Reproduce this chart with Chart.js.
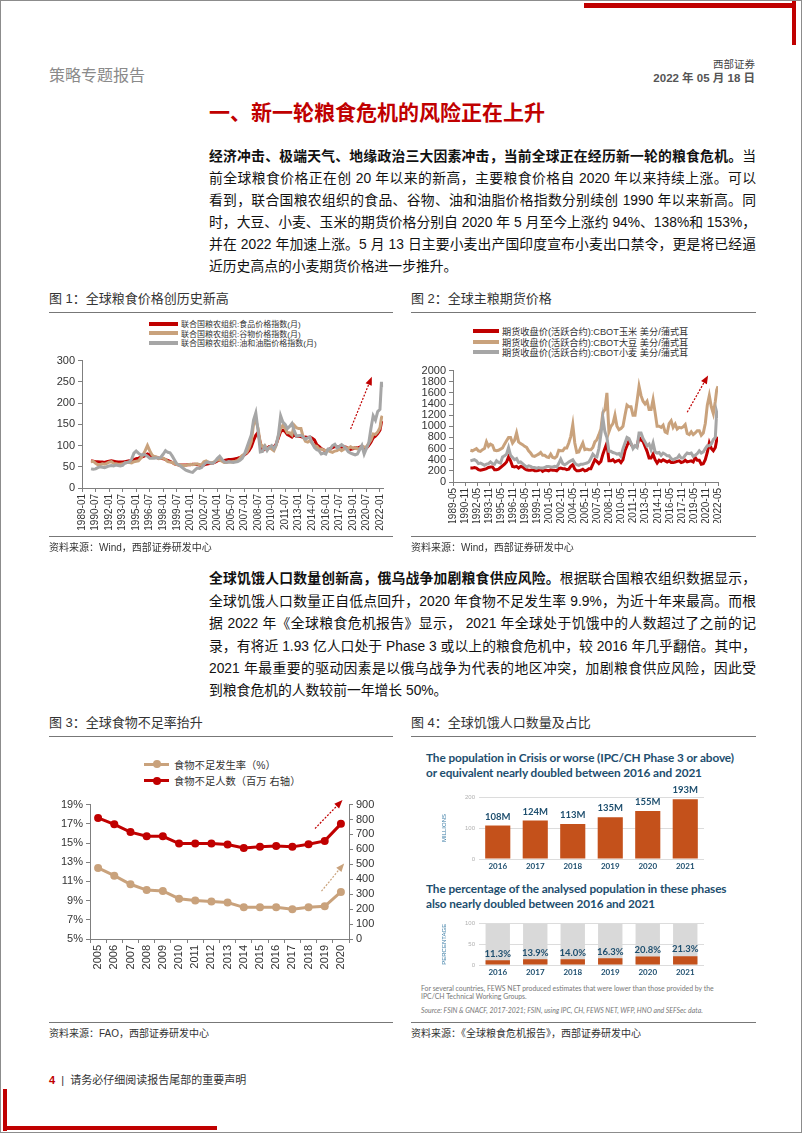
<!DOCTYPE html>
<html>
<head>
<meta charset="utf-8">
<script src="https://cdn.jsdelivr.net/npm/chart.js@4.4.1/dist/chart.umd.min.js"></script>
<style>
  html, body { margin: 0; padding: 0; background: #fff; }
  #page { position: relative; width: 802px; height: 1133px; overflow: hidden; box-sizing: border-box; border: 1px solid #8c8c8c;
          font-family: "Liberation Sans", Arial, "Noto Sans CJK SC", sans-serif; color: #222; }
  .abs { position: absolute; white-space: nowrap; }
  .ln { position: absolute; left: 208px; width: 547px; height: 22px; line-height: 22px; font-size: 13.8px;
        white-space: nowrap; text-align: justify; text-align-last: justify; color: #111; }
  .ln.last { text-align-last: left; }
  .ftitle { position: absolute; font-size: 13px; line-height: 16px; color: #333; white-space: nowrap; }
  .rule { position: absolute; height: 0; border-top: 1.5px solid #777; }
  .src { position: absolute; font-size: 10px; line-height: 12px; color: #333; white-space: nowrap; }
  canvas { position: absolute; }
  .legend { position: absolute; font-size: 8px; color: #333; }
  .legend .row { display: flex; align-items: center; height: 9.6px; white-space: nowrap; }
  .legend .sw { display: inline-block; width: 29px; height: 4px; margin-right: 3px; }
  .legend.wide { font-size: 9.2px; }
  .legend.wide .row { height: 10.5px; }
  .legend.wide .sw { width: 26px; }
  .legend3 { position: absolute; font-size: 10.3px; color: #333; }
  .legend3 .row { display: flex; align-items: center; height: 16.5px; white-space: nowrap; }
  .legend3 .sw { position: relative; display: inline-block; width: 25px; height: 3px; margin-right: 5px; }
  .legend3 .sw i { position: absolute; left: 8.5px; top: -2.5px; width: 8px; height: 8px; border-radius: 50%; }
  .f4t { position: absolute; left: 425px; font-family: Lato, "Open Sans", sans-serif; font-weight: 700; font-size: 11.8px;
         line-height: 14.5px; color: #1d4e6e; white-space: nowrap; letter-spacing: -0.1px; }
  .f4n { position: absolute; left: 420px; font-family: Lato, sans-serif; font-size: 6.9px; line-height: 8px; color: #777; white-space: nowrap; }
</style>
</head>
<body>
<div id="page">
  <!-- corner marks -->
  <div class="abs" style="left:583px;top:2px;width:212px;height:5px;background:#c00000"></div>
  <div class="abs" style="left:791px;top:0;width:4px;height:44px;background:#c00000"></div>
  <div class="abs" style="left:2px;top:1088px;width:4px;height:42px;background:#c00000"></div>
  <div class="abs" style="left:2px;top:1125px;width:214px;height:4px;background:#c00000"></div>

  <div class="abs" style="left:48px;top:65px;font-size:16px;line-height:20px;color:#8a8a8a;">策略专题报告</div>
  <div class="abs" style="right:46px;top:56px;font-size:10.5px;line-height:14px;color:#444;">西部证券</div>
  <div class="abs" style="right:46px;top:70px;font-size:11.5px;line-height:15px;color:#555;font-weight:bold;">2022 年 05 月 18 日</div>

  <div class="abs" style="left:208px;top:99px;font-size:21px;line-height:26px;color:#c00000;font-weight:bold;">一、新一轮粮食危机的风险正在上升</div>

  <div class="ln" style="top:145px"><b>经济冲击、极端天气、地缘政治三大因素冲击，当前全球正在经历新一轮的粮食危机。</b>当</div>
  <div class="ln" style="top:167px">前全球粮食价格正在创 20 年以来的新高，主要粮食价格自 2020 年以来持续上涨。可以</div>
  <div class="ln" style="top:189px">看到，联合国粮农组织的食品、谷物、油和油脂价格指数分别续创 1990 年以来新高。同</div>
  <div class="ln" style="top:211px">时，大豆、小麦、玉米的期货价格分别自 2020 年 5 月至今上涨约 94%、138%和 153%，</div>
  <div class="ln" style="top:233px">并在 2022 年加速上涨。5 月 13 日主要小麦出产国印度宣布小麦出口禁令，更是将已经逼</div>
  <div class="ln last" style="top:255px">近历史高点的小麦期货价格进一步推升。</div>

  <div class="ftitle" style="left:48px;top:290px">图 1：全球粮食价格创历史新高</div>
  <div class="rule" style="left:48px;top:311px;width:344px"></div>
  <div class="ftitle" style="left:410px;top:290px">图 2：全球主粮期货价格</div>
  <div class="rule" style="left:410px;top:311px;width:345px"></div>

  <div class="legend" id="lg1" style="left:148px;top:318px"></div>
  <canvas id="fig1" width="349" height="186" style="left:44px;top:350px"></canvas>
  <div class="legend wide" id="lg2" style="left:472px;top:325px"></div>
  <canvas id="fig2" width="326" height="162" style="left:405px;top:360px"></canvas>

  <div class="rule" style="left:48px;top:535px;width:344px"></div>
  <div class="src" style="left:48px;top:541px">资料来源：Wind，西部证券研发中心</div>
  <div class="rule" style="left:410px;top:535px;width:345px"></div>
  <div class="src" style="left:410px;top:541px">资料来源：Wind，西部证券研发中心</div>

  <div class="ln" style="top:567px"><b>全球饥饿人口数量创新高，俄乌战争加剧粮食供应风险。</b>根据联合国粮农组织数据显示，</div>
  <div class="ln" style="top:590px">全球饥饿人口数量正自低点回升，2020 年食物不足发生率 9.9%，为近十年来最高。而根</div>
  <div class="ln" style="top:612px">据 2022 年《全球粮食危机报告》显示， 2021 年全球处于饥饿中的人数超过了之前的记</div>
  <div class="ln" style="top:635px">录，有将近 1.93 亿人口处于 Phase 3 或以上的粮食危机中，较 2016 年几乎翻倍。其中，</div>
  <div class="ln" style="top:657px">2021 年最重要的驱动因素是以俄乌战争为代表的地区冲突，加剧粮食供应风险，因此受</div>
  <div class="ln last" style="top:679px">到粮食危机的人数较前一年增长 50%。</div>

  <div class="ftitle" style="left:48px;top:714px">图 3：全球食物不足率抬升</div>
  <div class="rule" style="left:48px;top:735px;width:344px"></div>
  <div class="ftitle" style="left:410px;top:714px">图 4：全球饥饿人口数量及占比</div>
  <div class="rule" style="left:410px;top:735px;width:345px"></div>

  <div class="legend3" id="lg3" style="left:143px;top:755px"></div>
  <canvas id="fig3" width="340" height="175" style="left:44px;top:794px"></canvas>

  <div class="f4t" style="top:750px">The population in Crisis or worse (IPC/CH Phase 3 or above)<br>or equivalent nearly doubled between 2016 and 2021</div>
  <canvas id="fig4a" width="280" height="95" style="left:440px;top:780px"></canvas>
  <div class="f4t" style="top:881px">The percentage of the analysed population in these phases<br>also nearly doubled between 2016 and 2021</div>
  <canvas id="fig4b" width="280" height="63" style="left:440px;top:915px"></canvas>
  <div class="f4n" style="top:983px">For several countries, FEWS NET produced estimates that were lower than those provided by the<br>IPC/CH Technical Working Groups.</div>
  <div class="f4n" style="top:1005px;font-style:italic">Source: FSIN &amp; GNACF, 2017-2021; FSIN, using IPC, CH, FEWS NET, WFP, HNO and SEFSec data.</div>

  <div class="rule" style="left:48px;top:1021px;width:344px"></div>
  <div class="src" style="left:48px;top:1027px">资料来源：FAO，西部证券研发中心</div>
  <div class="rule" style="left:410px;top:1021px;width:345px"></div>
  <div class="src" style="left:410px;top:1027px">资料来源：《全球粮食危机报告》，西部证券研发中心</div>

  <div class="abs" style="left:48px;top:1072px;font-size:11px;line-height:14px;color:#333;">
    <b style="color:#c00000">4</b>&nbsp;&nbsp;|&nbsp;&nbsp;请务必仔细阅读报告尾部的重要声明</div>
</div>

<script>
const fig1Ticks = ['1989-01','1990-07','1992-01','1993-07','1995-01','1996-07','1998-01','1999-07','2001-01','2002-07',
  '2004-01','2005-07','2007-01','2008-07','2010-01','2011-07','2013-01','2014-07','2016-01','2017-07','2019-01','2020-07','2022-01'];
const fig1Labels = ['联合国粮农组织:食品价格指数(月)', '联合国粮农组织:谷物价格指数(月)', '联合国粮农组织:油和油脂价格指数(月)'];
const fig1Dates = [
  '1990-01','1990-04','1990-07','1990-10','1991-01','1991-04','1991-07','1991-10','1992-01','1992-04','1992-07','1992-10',
  '1993-01','1993-04','1993-07','1993-10','1994-01','1994-04','1994-07','1994-10','1995-01','1995-04','1995-07','1995-10',
  '1996-01','1996-04','1996-07','1996-10','1997-01','1997-04','1997-07','1997-10','1998-01','1998-04','1998-07','1998-10',
  '1999-01','1999-04','1999-07','1999-10','2000-01','2000-04','2000-07','2000-10','2001-01','2001-04','2001-07','2001-10',
  '2002-01','2002-04','2002-07','2002-10','2003-01','2003-04','2003-07','2003-10','2004-01','2004-04','2004-07','2004-10',
  '2005-01','2005-04','2005-07','2005-10','2006-01','2006-04','2006-07','2006-10','2007-01','2007-04','2007-07','2007-10',
  '2008-01','2008-04','2008-07','2008-10','2009-01','2009-04','2009-07','2009-10','2010-01','2010-04','2010-07','2010-10',
  '2011-01','2011-04','2011-07','2011-10','2012-01','2012-04','2012-07','2012-10','2013-01','2013-04','2013-07','2013-10',
  '2014-01','2014-04','2014-07','2014-10','2015-01','2015-04','2015-07','2015-10','2016-01','2016-04','2016-07','2016-10',
  '2017-01','2017-04','2017-07','2017-10','2018-01','2018-04','2018-07','2018-10','2019-01','2019-04','2019-07','2019-10',
  '2020-01','2020-04','2020-07','2020-10','2021-01','2021-04','2021-07','2021-10','2022-01','2022-03','2022-04'];
const fig1Food = [
  64,63,62,62, 61,61,60,62, 63,64,63,62, 61,61,61,62, 63,64,65,67, 69,70,72,74, 76,80,78,74, 73,72,70,70,
  69,67,65,63, 60,57,55,54, 54,54,54,55, 55,56,56,55, 54,53,54,56, 57,58,59,61, 64,66,65,65, 66,67,67,68,
  69,70,72,74, 78,82,88,97, 112,124,131,105, 88,92,93,98, 98,96,103,118, 133,136,133,126, 123,120,126,122,
  122,121,119,120, 119,120,117,113, 102,98,93,90, 86,90,93,95, 98,96,98,96, 97,96,93,91, 92,95,94,96,
  99,91,94,100, 108,118,122,128, 136,155,158];
const fig1Cereal = [
  62,63,58,55, 55,57,56,58, 61,62,58,57, 56,56,57,59, 60,60,59,62, 63,64,70,78, 88,100,88,78, 74,73,69,70,
  70,67,62,61, 60,57,55,54, 54,53,53,55, 56,55,56,57, 55,55,62,64, 60,59,60,63, 66,66,63,60, 60,61,61,62,
  63,65,70,77, 80,84,95,110, 150,160,140,105, 97,100,90,95, 92,88,100,122, 140,148,140,130, 130,125,148,142,
  140,140,120,110, 108,112,105,100, 98,92,92,90, 88,88,86,84, 87,88,92,88, 91,95,93,97, 94,95,92,93,
  98,96,97,105, 113,127,126,132, 142,165,170];
const fig1Oils = [
  45,44,45,48, 50,49,48,50, 52,53,52,54, 53,52,53,59, 60,62,68,82, 87,82,78,79, 78,75,70,70, 70,71,70,73,
  80,88,84,83, 75,66,57,54, 50,46,42,40, 38,37,42,47, 46,48,55,60, 61,59,58,63, 70,75,68,62, 60,62,61,60,
  61,62,65,70, 80,95,110,125, 160,177,135,85, 86,98,88,96, 100,92,102,125, 170,155,150,140, 145,152,135,122,
  123,124,120,115, 118,120,105,95, 90,88,80,82, 80,92,92,100, 103,95,98,102, 98,92,85,82, 80,78,80,90,
  100,80,93,105, 140,170,160,180, 185,250,237];

// ---------- Figure 2: CBOT futures, cents/bushel ----------
const fig2Ticks = ['1989-05','1990-11','1992-05','1993-11','1995-05','1996-11','1998-05','1999-11','2001-05','2002-11',
  '2004-05','2005-11','2007-05','2008-11','2010-05','2011-11','2013-05','2014-11','2016-05','2017-11','2019-05','2020-11','2022-05'];
const fig2Labels = ['期货收盘价(活跃合约):CBOT玉米  美分/蒲式耳', '期货收盘价(活跃合约):CBOT大豆  美分/蒲式耳', '期货收盘价(活跃合约):CBOT小麦  美分/蒲式耳'];
const fig2Dates = [
  '1991-07','1991-10','1992-01','1992-04','1992-07','1992-10',
  '1993-01','1993-04','1993-07','1993-10','1994-01','1994-04','1994-07','1994-10','1995-01','1995-04','1995-07','1995-10',
  '1996-01','1996-04','1996-07','1996-10','1997-01','1997-04','1997-07','1997-10','1998-01','1998-04','1998-07','1998-10',
  '1999-01','1999-04','1999-07','1999-10','2000-01','2000-04','2000-07','2000-10','2001-01','2001-04','2001-07','2001-10',
  '2002-01','2002-04','2002-07','2002-10','2003-01','2003-04','2003-07','2003-10','2004-01','2004-04','2004-07','2004-10',
  '2005-01','2005-04','2005-07','2005-10','2006-01','2006-04','2006-07','2006-10','2007-01','2007-04','2007-07','2007-10',
  '2008-01','2008-04','2008-07','2008-10','2009-01','2009-04','2009-07','2009-10','2010-01','2010-04','2010-07','2010-10',
  '2011-01','2011-04','2011-07','2011-10','2012-01','2012-04','2012-07','2012-10','2013-01','2013-04','2013-07','2013-10',
  '2014-01','2014-04','2014-07','2014-10','2015-01','2015-04','2015-07','2015-10','2016-01','2016-04','2016-07','2016-10',
  '2017-01','2017-04','2017-07','2017-10','2018-01','2018-04','2018-07','2018-10','2019-01','2019-04','2019-07','2019-10',
  '2020-01','2020-04','2020-07','2020-10','2021-01','2021-04','2021-07','2021-10','2022-01','2022-03','2022-05'];
const fig2Corn = [
  250,250, 260,250,220,210, 220,230,240,260, 270,270,220,220, 230,260,290,320, 360,450,380,280, 270,280,250,280,
  270,240,220,210, 210,220,200,200, 210,230,190,210, 210,200,220,210, 210,200,240,250, 240,240,220,230,
  280,310,230,200, 200,210,230,200, 210,240,240,320, 400,370,330,370, 500,600,700,380, 380,400,360,380,
  390,350,400,560, 650,740,680,630, 640,640,800,750, 730,640,550,430, 430,500,400,340, 390,370,400,380,
  360,380,350,350, 360,370,380,350, 360,390,360,370, 380,360,440,390, 390,320,330,400, 530,700,600,560,
  620,750,810];
const fig2Soy = [
  570,560, 580,600,560,550, 580,600,720,640, 680,660,570,560, 570,590,610,680, 740,800,800,700, 750,880,720,690,
  670,640,620,560, 520,470,460,480, 500,530,480,480, 450,440,500,440, 430,460,570,560, 560,610,610,700,
  820,1030,700,530, 540,620,700,580, 590,580,580,620, 720,760,850,950, 1250,1300,1600,900, 1000,1050,1200,1000,
  940,960,1000,1200, 1380,1350,1350,1200, 1200,1450,1720,1550, 1450,1400,1450,1300, 1300,1480,1250,1000, 1000,980,1020,900,
  880,1050,1100,980, 1040,950,980,970, 990,1030,870,850, 900,850,880,920, 920,840,880,1050, 1380,1550,1350,1230,
  1450,1650,1720];
const fig2Wheat = [
  380,390, 400,380,330,340, 320,300,320,330, 360,330,320,380, 350,340,450,470, 500,620,480,440, 400,420,350,360,
  330,300,270,290, 280,260,260,250, 260,250,250,260, 280,280,270,270, 280,270,330,410, 330,310,330,360,
  380,400,340,310, 300,320,320,330, 340,360,420,500, 460,450,600,850, 1150,900,800,550, 550,530,520,500,
  510,460,600,700, 800,780,700,600, 650,620,880,880, 780,720,650,680, 580,700,540,520, 530,480,520,500,
  470,470,420,400, 420,430,480,430, 430,480,520,510, 520,460,480,510, 560,520,540,600, 650,650,680,760,
  800,1250,1150];

// ---------- Figure 3: prevalence of undernourishment ----------
const fig3Years = ['2005','2006','2007','2008','2009','2010','2011','2012','2013','2014','2015','2016','2017','2018','2019','2020'];
const fig3Labels = ['食物不足发生率（%）', '食物不足人数（百万  右轴）'];
const fig3Rate = [12.4, 11.6, 10.7, 10.1, 10.0, 9.2, 9.0, 8.9, 8.8, 8.3, 8.3, 8.3, 8.1, 8.3, 8.4, 9.9];
const fig3People = [811, 768, 716, 688, 688, 639, 639, 639, 633, 609, 617, 622, 617, 635, 657, 771];

// ---------- Figure 4: Global Report on Food Crises ----------
const fig4Years = ['2016', '2017', '2018', '2019', '2020', '2021'];
const fig4Millions = [108, 124, 113, 135, 155, 193];
const fig4Percent = [11.3, 13.9, 14.0, 16.3, 20.8, 21.3];
const fig4PercentTotal = [100, 100, 100, 100, 100, 100];

const RED = '#c00000', TAN = '#c9a27c', GRAY = '#a6a6a6', ORANGE = '#c4511b', NAVY = '#1d4e6e';

Chart.defaults.font.family = '"Liberation Sans", Arial, sans-serif';
Chart.defaults.color = '#333';

const toYear = (s) => {
    const [y, m] = s.split('-').map(Number);
    return y + (m - 1) / 12;
};
const toPoints = (dates, values) => dates.map((d, i) => ({ x: toYear(d), y: values[i] }));

// dotted trend arrows, positioned in data units
const arrowPlugin = {
    id: 'arrows',
    afterDatasetsDraw: (chart, args, opts) => {
        const ctx = chart.ctx;
        (opts.items || []).forEach(a => {
            const xs = chart.scales.x, ys = chart.scales[a.axis || 'y'];
            const x1 = xs.getPixelForValue(a.from[0]), y1 = ys.getPixelForValue(a.from[1]);
            const x2 = xs.getPixelForValue(a.to[0]), y2 = ys.getPixelForValue(a.to[1]);
            const ang = Math.atan2(y2 - y1, x2 - x1);
            ctx.save();
            ctx.strokeStyle = a.color;
            ctx.fillStyle = a.color;
            ctx.lineWidth = 1.2;
            ctx.setLineDash([2, 1.5]);
            ctx.beginPath();
            ctx.moveTo(x1, y1);
            ctx.lineTo(x2 - 6 * Math.cos(ang), y2 - 6 * Math.sin(ang));
            ctx.stroke();
            ctx.setLineDash([]);
            ctx.beginPath();
            ctx.moveTo(x2, y2);
            ctx.lineTo(x2 - 9 * Math.cos(ang - 0.38), y2 - 9 * Math.sin(ang - 0.38));
            ctx.lineTo(x2 - 9 * Math.cos(ang + 0.38), y2 - 9 * Math.sin(ang + 0.38));
            ctx.closePath();
            ctx.fill();
            ctx.restore();
        });
    }
};

// value labels above bars (fig 4)
const barLabelPlugin = {
    id: 'barLabels',
    afterDatasetsDraw: (chart, args, opts) => {
        const ctx = chart.ctx;
        const meta = chart.getDatasetMeta(0);
        const values = chart.data.datasets[0].data;
        ctx.save();
        ctx.font = 'bold 9.5px Lato, "Open Sans", sans-serif';
        ctx.fillStyle = NAVY;
        ctx.textAlign = 'center';
        ctx.textBaseline = 'bottom';
        meta.data.forEach((bar, i) => ctx.fillText(opts.format(values[i]), bar.x, bar.y - opts.gap));
        ctx.restore();
    }
};

const buildLegend = (id, labels, colors) => {
    document.getElementById(id).innerHTML = labels.map((l, i) =>
        `<div class="row"><span class="sw" style="background:${colors[i]}"></span>${l}</div>`).join('');
};

const axisStyle = (extra) => Object.assign({
    grid: { drawOnChartArea: false, tickLength: 4, color: '#7f7f7f' },
    border: { color: '#7f7f7f' }
}, extra);

const timeLineChart = (canvasId, cfg) => new Chart(document.getElementById(canvasId), {
    type: 'line',
    data: {
        datasets: cfg.series.map((s, i) => ({
            label: cfg.labels[i],
            data: toPoints(cfg.dates, s),
            borderColor: cfg.colors[i],
            borderWidth: 3,
            pointRadius: 0,
            tension: 0,
            order: cfg.series.length - i
        }))
    },
    options: {
        responsive: false,
        animation: false,
        layout: { padding: { top: cfg.padTop, right: 4, left: 0, bottom: 0 } },
        plugins: { legend: { display: false }, tooltip: { enabled: false }, arrows: { items: cfg.arrows } },
        scales: {
            x: axisStyle({
                type: 'linear',
                min: toYear(cfg.ticks[0]),
                max: cfg.xMax,
                afterBuildTicks: (axis) => { axis.ticks = cfg.ticks.map(t => ({ value: toYear(t) })); },
                ticks: { autoSkip: false, minRotation: 90, maxRotation: 90, padding: 2, font: { size: 10 },
                         callback: (v, i) => cfg.ticks[i] },
                afterFit: (s) => { s.height = cfg.xHeight; }
            }),
            y: axisStyle({
                min: 0, max: cfg.yMax,
                ticks: { stepSize: cfg.yStep, autoSkip: false, padding: 3, font: { size: 11 }, callback: v => v },
                afterFit: (s) => { s.width = cfg.yWidth; }
            })
        }
    },
    plugins: [arrowPlugin]
});

// Figure 1
buildLegend('lg1', fig1Labels, [RED, TAN, GRAY]);
timeLineChart('fig1', {
    labels: fig1Labels, dates: fig1Dates, series: [fig1Food, fig1Cereal, fig1Oils], colors: [RED, TAN, GRAY],
    ticks: fig1Ticks, xMax: 2022.35, yMax: 300, yStep: 50, yWidth: 37, xHeight: 49, padTop: 6,
    arrows: [{ from: [2018.75, 139], to: [2021.1, 262], color: RED }]
});

// Figure 2
buildLegend('lg2', fig2Labels, [RED, TAN, GRAY]);
timeLineChart('fig2', {
    labels: fig2Labels, dates: fig2Dates, series: [fig2Corn, fig2Soy, fig2Wheat], colors: [RED, TAN, GRAY],
    ticks: fig2Ticks, xMax: toYear('2022-05'), yMax: 2000, yStep: 200, yWidth: 47, xHeight: 41, padTop: 5,
    arrows: [{ from: [2018.5, 1253], to: [2021.1, 1914], color: RED }]
});

// Figure 3
document.getElementById('lg3').innerHTML = fig3Labels.map((l, i) => {
    const c = [TAN, RED][i];
    return `<div class="row"><span class="sw" style="background:${c}"><i style="background:${c}"></i></span>${l}</div>`;
}).join('');
new Chart(document.getElementById('fig3'), {
    type: 'line',
    data: {
        labels: fig3Years,
        datasets: [
            { label: fig3Labels[0], data: fig3Rate, yAxisID: 'y', borderColor: TAN, backgroundColor: TAN,
              borderWidth: 3, pointRadius: 4, pointBorderWidth: 0 },
            { label: fig3Labels[1], data: fig3People, yAxisID: 'y1', borderColor: RED, backgroundColor: RED,
              borderWidth: 3, pointRadius: 4, pointBorderWidth: 0 }
        ]
    },
    options: {
        responsive: false,
        animation: false,
        layout: { padding: { top: 7, right: 0, left: 0, bottom: 0 } },
        plugins: {
            legend: { display: false }, tooltip: { enabled: false },
            arrows: { items: [
                { from: [13.4, 740], to: [15.1, 930], color: RED, axis: 'y1' },
                { from: [13.8, 320], to: [15.2, 506], color: TAN, axis: 'y1' }
            ] }
        },
        scales: {
            x: axisStyle({
                offset: true,
                grid: { drawOnChartArea: false, tickLength: 4, color: '#7f7f7f', offset: true },
                ticks: { autoSkip: false, minRotation: 90, maxRotation: 90, padding: 2, font: { size: 11 } },
                afterFit: (s) => { s.height = 31; }
            }),
            y: axisStyle({
                position: 'left', min: 5, max: 19,
                ticks: { stepSize: 2, autoSkip: false, padding: 3, font: { size: 11 }, callback: v => v + '%' },
                afterFit: (s) => { s.width = 45; }
            }),
            y1: axisStyle({
                position: 'right', min: 0, max: 900,
                ticks: { stepSize: 100, autoSkip: false, padding: 3, font: { size: 11 }, callback: v => v },
                afterFit: (s) => { s.width = 36; }
            })
        }
    },
    plugins: [arrowPlugin]
});

// Figure 4 (two small bar charts)
const fig4Scales = (yMax, yStep, title, xHeight) => ({
    x: {
        grid: { display: false, drawTicks: false, tickLength: 0 }, border: { display: false },
        ticks: { color: NAVY, padding: 3, font: { size: 8, weight: 'bold', family: 'Lato, sans-serif' } },
        afterFit: (s) => { s.height = xHeight; }
    },
    y: {
        min: 0, max: yMax,
        ticks: { stepSize: yStep, color: '#b0b0b0', padding: 4, font: { size: 6 } },
        grid: { color: '#dcdcdc', tickLength: 0 },
        border: { display: false },
        title: { display: true, text: title, color: '#3a7ca5', padding: 0, font: { size: 6 } },
        afterFit: (s) => { s.width = 38; }
    }
});

new Chart(document.getElementById('fig4a'), {
    type: 'bar',
    data: {
        labels: fig4Years,
        datasets: [{ data: fig4Millions, backgroundColor: ORANGE, barPercentage: 0.67, categoryPercentage: 1 }]
    },
    options: {
        responsive: false,
        animation: false,
        layout: { padding: { top: 16, right: 17 } },
        plugins: { legend: { display: false }, tooltip: { enabled: false }, barLabels: { format: v => v + 'M', gap: 4 } },
        scales: fig4Scales(200, 100, 'MILLIONS', 17)
    },
    plugins: [barLabelPlugin]
});

new Chart(document.getElementById('fig4b'), {
    type: 'bar',
    data: {
        labels: fig4Years,
        datasets: [
            { data: fig4Percent, backgroundColor: ORANGE, barPercentage: 0.65, categoryPercentage: 1, grouped: false },
            { data: fig4PercentTotal, backgroundColor: '#d9d9d9', barPercentage: 0.65, categoryPercentage: 1, grouped: false }
        ]
    },
    options: {
        responsive: false,
        animation: false,
        layout: { padding: { top: 7, right: 17 } },
        plugins: { legend: { display: false }, tooltip: { enabled: false }, barLabels: { format: v => v.toFixed(1) + '%', gap: 2 } },
        scales: fig4Scales(100, 50, 'PERCENTAGE', 14)
    },
    plugins: [barLabelPlugin]
});
</script>
</body>
</html>
